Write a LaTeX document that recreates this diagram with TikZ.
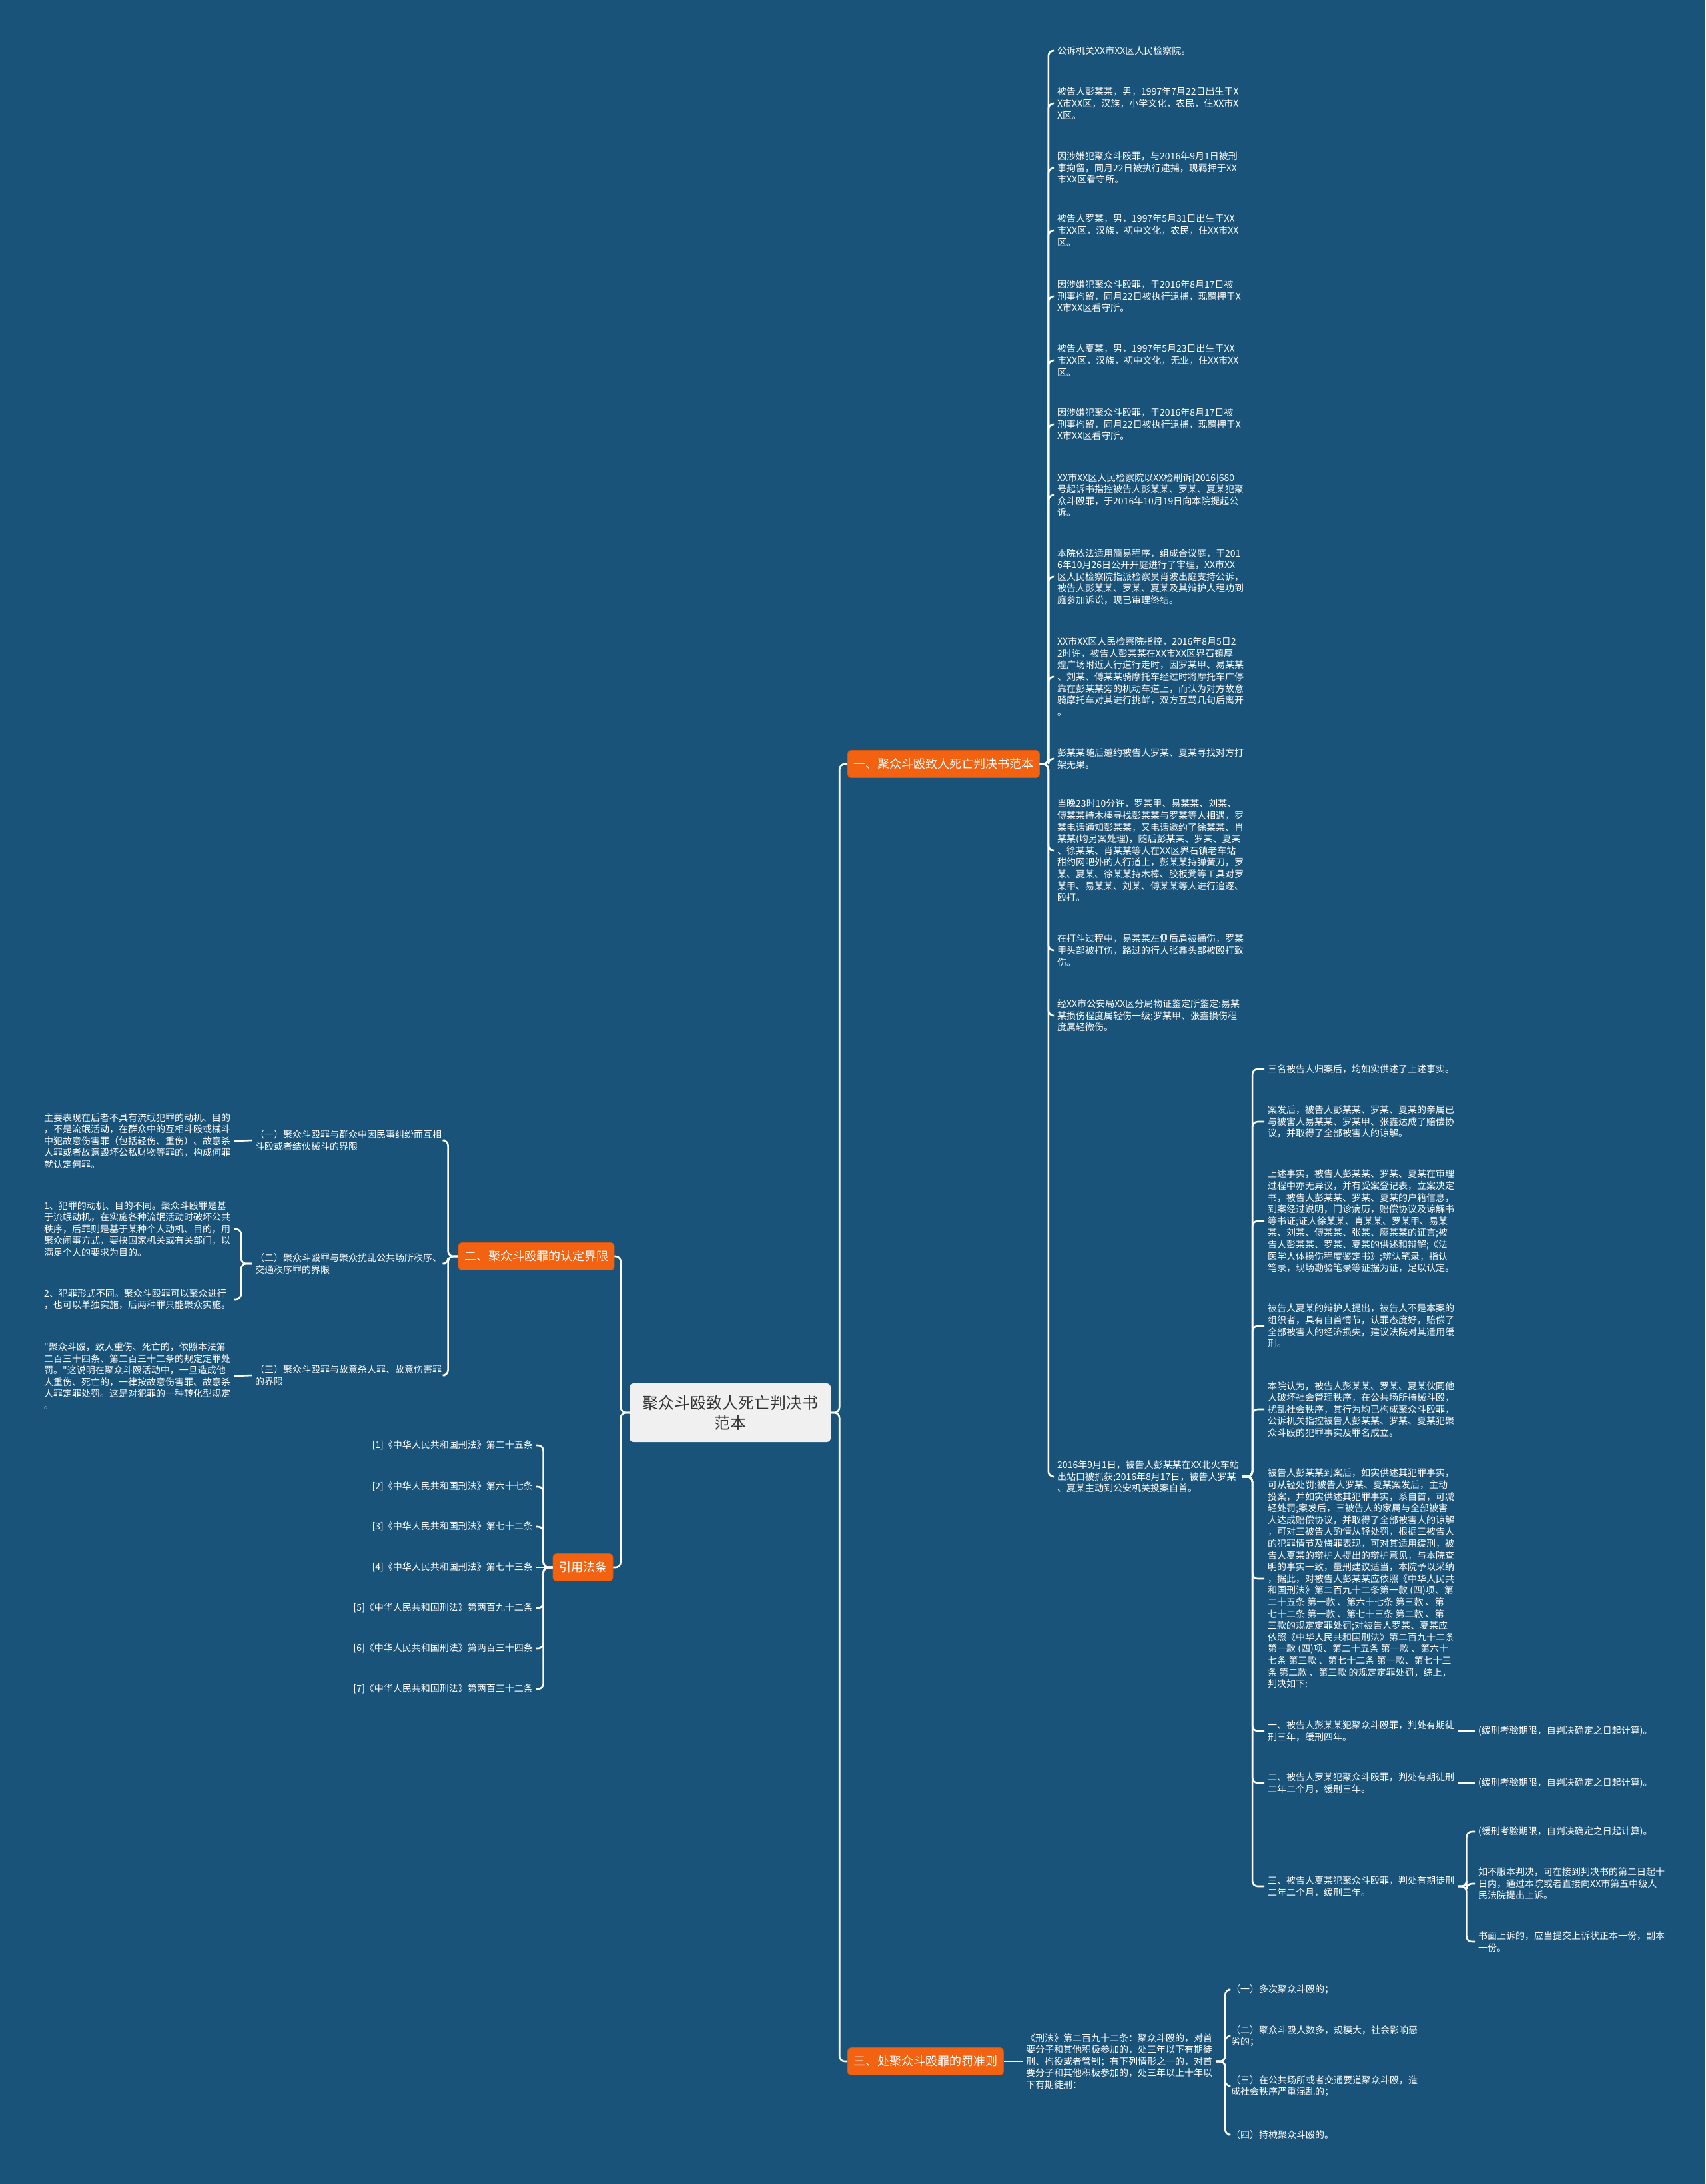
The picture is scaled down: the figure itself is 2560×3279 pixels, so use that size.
\documentclass[tikz,border=0pt]{standalone}
\usepackage{fontspec}
\setmainfont{Noto Sans CJK SC}[Ligatures=TeXOff]
\usetikzlibrary{positioning}

\begin{document}
\begin{tikzpicture}[
    x=1pt, y=-1pt,
    font=\fontsize{14}{17.6}\selectfont,
    % --- Styles ---
    root/.style={
        rectangle, minimum width=302pt, minimum height=88pt,
        align=center, rounded corners=6pt, fill=root_fill, text=root_text,
        font=\fontsize{24}{30}\selectfont
    },
    branch/.style={
        rectangle, minimum height=41pt, inner xsep=9pt,
        rounded corners=5pt, fill=branch_fill, draw=branch_border, line width=0.8pt,
        text=white, font=\fontsize{18}{22}\selectfont
    },
    leaf/.style={align=left, text=white, inner sep=5pt},
    link/.style={draw=white, line width=2.6pt, rounded corners=8pt}
]

    % ── Colour Palette ──────────────────────────────────────────────────
    \definecolor{bg_fill}{RGB}{25, 83, 121}
    \definecolor{root_fill}{RGB}{240, 240, 240}
    \definecolor{root_text}{RGB}{51, 51, 51}
    \definecolor{branch_fill}{RGB}{242, 98, 16}
    \definecolor{branch_border}{RGB}{214, 84, 14}

    \fill[bg_fill] (0,0) rectangle (2560,3279);
    \useasboundingbox (0,0) rectangle (2560,3279);

    % ── NODES ───────────────────────────────────────────────────────────

    % Centre
    \node (root) [root] at (1096,2121) {聚众斗殴致人死亡判决书\\范本};

    % Branches
    \node (b1) [branch, anchor=west] at (1272,1147) {一、聚众斗殴致人死亡判决书范本};
    \node (b2) [branch] at (805,1886) {二、聚众斗殴罪的认定界限};
    \node (b4) [branch] at (875,2353) {引用法条};
    \node (b3) [branch, anchor=west] at (1272,3095) {三、处聚众斗殴罪的罚准则};

    % Branch 1 — judgement text
    \node (r1) [leaf, anchor=west] at (1582,76) {公诉机关XX市XX区人民检察院。};
    \node (r2) [leaf, anchor=west] at (1582,155) {被告人彭某某，男，1997年7月22日出生于X\\X市XX区，汉族，小学文化，农民，住XX市X\\X区。};
    \node (r3) [leaf, anchor=west] at (1582,252) {因涉嫌犯聚众斗殴罪，与2016年9月1日被刑\\事拘留，同月22日被执行逮捕，现羁押于XX\\市XX区看守所。};
    \node (r4) [leaf, anchor=west] at (1582,346) {被告人罗某，男，1997年5月31日出生于XX\\市XX区，汉族，初中文化，农民，住XX市XX\\区。};
    \node (r5) [leaf, anchor=west] at (1582,445) {因涉嫌犯聚众斗殴罪，于2016年8月17日被\\刑事拘留，同月22日被执行逮捕，现羁押于X\\X市XX区看守所。};
    \node (r6) [leaf, anchor=west] at (1582,541) {被告人夏某，男，1997年5月23日出生于XX\\市XX区，汉族，初中文化，无业，住XX市XX\\区。};
    \node (r7) [leaf, anchor=west] at (1582,637) {因涉嫌犯聚众斗殴罪，于2016年8月17日被\\刑事拘留，同月22日被执行逮捕，现羁押于X\\X市XX区看守所。};
    \node (r8) [leaf, anchor=west] at (1582,743) {XX市XX区人民检察院以XX检刑诉[2016]680\\号起诉书指控被告人彭某某、罗某、夏某犯聚\\众斗殴罪，于2016年10月19日向本院提起公\\诉。};
    \node (r9) [leaf, anchor=west] at (1582,866) {本院依法适用简易程序，组成合议庭，于201\\6年10月26日公开开庭进行了审理，XX市XX\\区人民检察院指派检察员肖波出庭支持公诉，\\被告人彭某某、罗某、夏某及其辩护人程功到\\庭参加诉讼，现已审理终结。};
    \node (r10) [leaf, anchor=west] at (1582,1016) {XX市XX区人民检察院指控，2016年8月5日2\\2时许，被告人彭某某在XX市XX区界石镇厚\\煌广场附近人行道行走时，因罗某甲、易某某\\、刘某、傅某某骑摩托车经过时将摩托车广停\\靠在彭某某旁的机动车道上，而认为对方故意\\骑摩托车对其进行挑衅，双方互骂几句后离开\\。};
    \node (r11) [leaf, anchor=west] at (1582,1139) {彭某某随后邀约被告人罗某、夏某寻找对方打\\架无果。};
    \node (r12) [leaf, anchor=west] at (1582,1277) {当晚23时10分许，罗某甲、易某某、刘某、\\傅某某持木棒寻找彭某某与罗某等人相遇，罗\\某电话通知彭某某，又电话邀约了徐某某、肖\\某某(均另案处理)，随后彭某某、罗某、夏某\\、徐某某、肖某某等人在XX区界石镇老车站\\甜约网吧外的人行道上，彭某某持弹簧刀，罗\\某、夏某、徐某某持木棒、胶板凳等工具对罗\\某甲、易某某、刘某、傅某某等人进行追逐、\\殴打。};
    \node (r13) [leaf, anchor=west] at (1582,1427) {在打斗过程中，易某某左侧后肩被捅伤，罗某\\甲头部被打伤，路过的行人张鑫头部被殴打致\\伤。};
    \node (r14) [leaf, anchor=west] at (1582,1525) {经XX市公安局XX区分局物证鉴定所鉴定:易某\\某损伤程度属轻伤一级;罗某甲、张鑫损伤程\\度属轻微伤。};
    \node (r15) [leaf, anchor=west] at (1582,2217) {2016年9月1日，被告人彭某某在XX北火车站\\出站口被抓获;2016年8月17日，被告人罗某\\、夏某主动到公安机关投案自首。};

    % Court findings
    \node (s1) [leaf, anchor=west] at (1898,1605) {三名被告人归案后，均如实供述了上述事实。};
    \node (s2) [leaf, anchor=west] at (1898,1684) {案发后，被告人彭某某、罗某、夏某的亲属已\\与被害人易某某、罗某甲、张鑫达成了赔偿协\\议，并取得了全部被害人的谅解。};
    \node (s3) [leaf, anchor=west] at (1898,1833) {上述事实，被告人彭某某、罗某、夏某在审理\\过程中亦无异议，并有受案登记表，立案决定\\书，被告人彭某某、罗某、夏某的户籍信息，\\到案经过说明，门诊病历，赔偿协议及谅解书\\等书证;证人徐某某、肖某某、罗某甲、易某\\某、刘某、傅某某、张某、廖某某的证言;被\\告人彭某某、罗某、夏某的供述和辩解;《法\\医学人体损伤程度鉴定书》;辨认笔录，指认\\笔录，现场勘验笔录等证据为证，足以认定。};
    \node (s4) [leaf, anchor=west] at (1898,1991) {被告人夏某的辩护人提出，被告人不是本案的\\组织者，具有自首情节，认罪态度好，赔偿了\\全部被害人的经济损失，建议法院对其适用缓\\刑。};
    \node (s5) [leaf, anchor=west] at (1898,2116) {本院认为，被告人彭某某、罗某、夏某伙同他\\人破坏社会管理秩序，在公共场所持械斗殴，\\扰乱社会秩序，其行为均已构成聚众斗殴罪，\\公诉机关指控被告人彭某某、罗某、夏某犯聚\\众斗殴的犯罪事实及罪名成立。};
    \node (s6) [leaf, anchor=west] at (1898,2370) {被告人彭某某到案后，如实供述其犯罪事实，\\可从轻处罚;被告人罗某、夏某案发后，主动\\投案，并如实供述其犯罪事实，系自首，可减\\轻处罚;案发后，三被告人的家属与全部被害\\人达成赔偿协议，并取得了全部被害人的谅解\\，可对三被告人酌情从轻处罚，根据三被告人\\的犯罪情节及悔罪表现，可对其适用缓刑，被\\告人夏某的辩护人提出的辩护意见，与本院查\\明的事实一致，量刑建议适当，本院予以采纳\\，据此，对被告人彭某某应依照《中华人民共\\和国刑法》第二百九十二条第一款 (四)项、第\\二十五条 第一款 、第六十七条 第三款 、第\\七十二条 第一款 、第七十三条 第二款 、第\\三款的规定定罪处罚;对被告人罗某、夏某应\\依照《中华人民共和国刑法》第二百九十二条\\ 第一款 (四)项、第二十五条 第一款 、第六十\\七条 第三款 、第七十二条 第一款、第七十三\\条 第二款 、第三款 的规定定罪处罚，综上，\\判决如下:};
    \node (s7) [leaf, anchor=west] at (1898,2599) {一、被告人彭某某犯聚众斗殴罪，判处有期徒\\刑三年，缓刑四年。};
    \node (s8) [leaf, anchor=west] at (1898,2677) {二、被告人罗某犯聚众斗殴罪，判处有期徒刑\\二年二个月，缓刑三年。};
    \node (s9) [leaf, anchor=west] at (1898,2832) {三、被告人夏某犯聚众斗殴罪，判处有期徒刑\\二年二个月，缓刑三年。};

    % Sentences
    \node (t1) [leaf, anchor=west] at (2214,2599) {(缓刑考验期限，自判决确定之日起计算)。};
    \node (t2) [leaf, anchor=west] at (2214,2677) {(缓刑考验期限，自判决确定之日起计算)。};
    \node (t3) [leaf, anchor=west] at (2214,2750) {(缓刑考验期限，自判决确定之日起计算)。};
    \node (t4) [leaf, anchor=west] at (2214,2828) {如不服本判决，可在接到判决书的第二日起十\\日内，通过本院或者直接向XX市第五中级人\\民法院提出上诉。};
    \node (t5) [leaf, anchor=west] at (2214,2915) {书面上诉的，应当提交上诉状正本一份，副本\\一份。};

    % Branch 2 — distinctions
    \node (v1) [leaf, anchor=west] at (378,1712) {（一）聚众斗殴罪与群众中因民事纠纷而互相\\斗殴或者结伙械斗的界限};
    \node (v2) [leaf, anchor=west] at (378,1897) {（二）聚众斗殴罪与聚众扰乱公共场所秩序、\\交通秩序罪的界限};
    \node (v3) [leaf, anchor=west] at (378,2065) {（三）聚众斗殴罪与故意杀人罪、故意伤害罪\\的界限};

    \node (w1) [leaf, anchor=west] at (61,1713) {主要表现在后者不具有流氓犯罪的动机、目的\\，不是流氓活动，在群众中的互相斗殴或械斗\\中犯故意伤害罪（包括轻伤、重伤）、故意杀\\人罪或者故意毁坏公私财物等罪的，构成何罪\\就认定何罪。};
    \node (w2) [leaf, anchor=west] at (61,1845) {1、犯罪的动机、目的不同。聚众斗殴罪是基\\于流氓动机，在实施各种流氓活动时破坏公共\\秩序，后罪则是基于某种个人动机、目的，用\\聚众闹事方式，要挟国家机关或有关部门，以\\满足个人的要求为目的。};
    \node (w3) [leaf, anchor=west] at (61,1951) {2、犯罪形式不同。聚众斗殴罪可以聚众进行\\，也可以单独实施，后两种罪只能聚众实施。};
    \node (w4) [leaf, anchor=west] at (61,2066) {"聚众斗殴，致人重伤、死亡的，依照本法第\\二百三十四条、第二百三十二条的规定定罪处\\罚。"这说明在聚众斗殴活动中，一旦造成他\\人重伤、死亡的，一律按故意伤害罪、故意杀\\人罪定罪处罚。这是对犯罪的一种转化型规定\\。};

    % Cited articles
    \node (c1) [leaf, anchor=east] at (805,2170) {[1]《中华人民共和国刑法》第二十五条};
    \node (c2) [leaf, anchor=east] at (805,2232) {[2]《中华人民共和国刑法》第六十七条};
    \node (c3) [leaf, anchor=east] at (805,2292) {[3]《中华人民共和国刑法》第七十二条};
    \node (c4) [leaf, anchor=east] at (805,2353) {[4]《中华人民共和国刑法》第七十三条};
    \node (c5) [leaf, anchor=east] at (805,2414) {[5]《中华人民共和国刑法》第两百九十二条};
    \node (c6) [leaf, anchor=east] at (805,2475) {[6]《中华人民共和国刑法》第两百三十四条};
    \node (c7) [leaf, anchor=east] at (805,2536) {[7]《中华人民共和国刑法》第两百三十二条};

    % Branch 3 — sentencing rule
    \node (law) [leaf, right=28pt of b3] {《刑法》第二百九十二条：聚众斗殴的，对首\\要分子和其他积极参加的，处三年以下有期徒\\刑、拘役或者管制；有下列情形之一的，对首\\要分子和其他积极参加的，处三年以上十年以\\下有期徒刑：};
    \node (u1) [leaf, anchor=west] at (1843,2987) {（一）多次聚众斗殴的；};
    \node (u2) [leaf, anchor=west] at (1843,3057) {（二）聚众斗殴人数多，规模大，社会影响恶\\劣的；};
    \node (u3) [leaf, anchor=west] at (1843,3132) {（三）在公共场所或者交通要道聚众斗殴，造\\成社会秩序严重混乱的；};
    \node (u4) [leaf, anchor=west] at (1843,3205) {（四）持械聚众斗殴的。};

    % ── CONNECTORS ──────────────────────────────────────────────────────

    % Centre → branches
    \draw [link] (root.east) -- ++(13,0) |- (b1.west);
    \draw [link] (root.east) -- ++(13,0) |- (b3.west);
    \draw [link] (root.west) -- ++(-13,0) |- (b2.east);
    \draw [link] (root.west) -- ++(-13,0) |- (b4.east);

    % Branch 1
    \draw [link] (b1.east) -- ++(13,0) |- (r1.west);
    \draw [link] (b1.east) -- ++(13,0) |- (r2.west);
    \draw [link] (b1.east) -- ++(13,0) |- (r3.west);
    \draw [link] (b1.east) -- ++(13,0) |- (r4.west);
    \draw [link] (b1.east) -- ++(13,0) |- (r5.west);
    \draw [link] (b1.east) -- ++(13,0) |- (r6.west);
    \draw [link] (b1.east) -- ++(13,0) |- (r7.west);
    \draw [link] (b1.east) -- ++(13,0) |- (r8.west);
    \draw [link] (b1.east) -- ++(13,0) |- (r9.west);
    \draw [link] (b1.east) -- ++(13,0) |- (r10.west);
    \draw [link] (b1.east) -- ++(13,0) |- (r11.west);
    \draw [link] (b1.east) -- ++(13,0) |- (r12.west);
    \draw [link] (b1.east) -- ++(13,0) |- (r13.west);
    \draw [link] (b1.east) -- ++(13,0) |- (r14.west);
    \draw [link] (b1.east) -- ++(13,0) |- (r15.west);

    \draw [link] (r15.east) -- ++(15,0) |- (s1.west);
    \draw [link] (r15.east) -- ++(15,0) |- (s2.west);
    \draw [link] (r15.east) -- ++(15,0) |- (s3.west);
    \draw [link] (r15.east) -- ++(15,0) |- (s4.west);
    \draw [link] (r15.east) -- ++(15,0) |- (s5.west);
    \draw [link] (r15.east) -- ++(15,0) |- (s6.west);
    \draw [link] (r15.east) -- ++(15,0) |- (s7.west);
    \draw [link] (r15.east) -- ++(15,0) |- (s8.west);
    \draw [link] (r15.east) -- ++(15,0) |- (s9.west);

    \draw [link] (s7.east) -- (t1.west);
    \draw [link] (s8.east) -- (t2.west);
    \draw [link] (s9.east) -- ++(13,0) |- (t3.west);
    \draw [link] (s9.east) -- ++(13,0) |- (t4.west);
    \draw [link] (s9.east) -- ++(13,0) |- (t5.west);

    % Branch 2
    \draw [link] (b2.west) -- ++(-15,0) |- (v1.east);
    \draw [link] (b2.west) -- ++(-15,0) |- (v2.east);
    \draw [link] (b2.west) -- ++(-15,0) |- (v3.east);
    \draw [link] (v1.west) -- (w1.east);
    \draw [link] (v2.west) -- ++(-16,0) |- (w2.east);
    \draw [link] (v2.west) -- ++(-16,0) |- (w3.east);
    \draw [link] (v3.west) -- (w4.east);

    % Cited articles
    \draw [link] (b4.west) -- ++(-14,0) |- (c1.east);
    \draw [link] (b4.west) -- ++(-14,0) |- (c2.east);
    \draw [link] (b4.west) -- ++(-14,0) |- (c3.east);
    \draw [link] (b4.west) -- (c4.east);
    \draw [link] (b4.west) -- ++(-14,0) |- (c5.east);
    \draw [link] (b4.west) -- ++(-14,0) |- (c6.east);
    \draw [link] (b4.west) -- ++(-14,0) |- (c7.east);

    % Branch 3
    \draw [link] (b3.east) -- (law.west);
    \draw [link] (law.east) -- ++(14,0) |- (u1.west);
    \draw [link] (law.east) -- ++(14,0) |- (u2.west);
    \draw [link] (law.east) -- ++(14,0) |- (u3.west);
    \draw [link] (law.east) -- ++(14,0) |- (u4.west);

\end{tikzpicture}
\end{document}
